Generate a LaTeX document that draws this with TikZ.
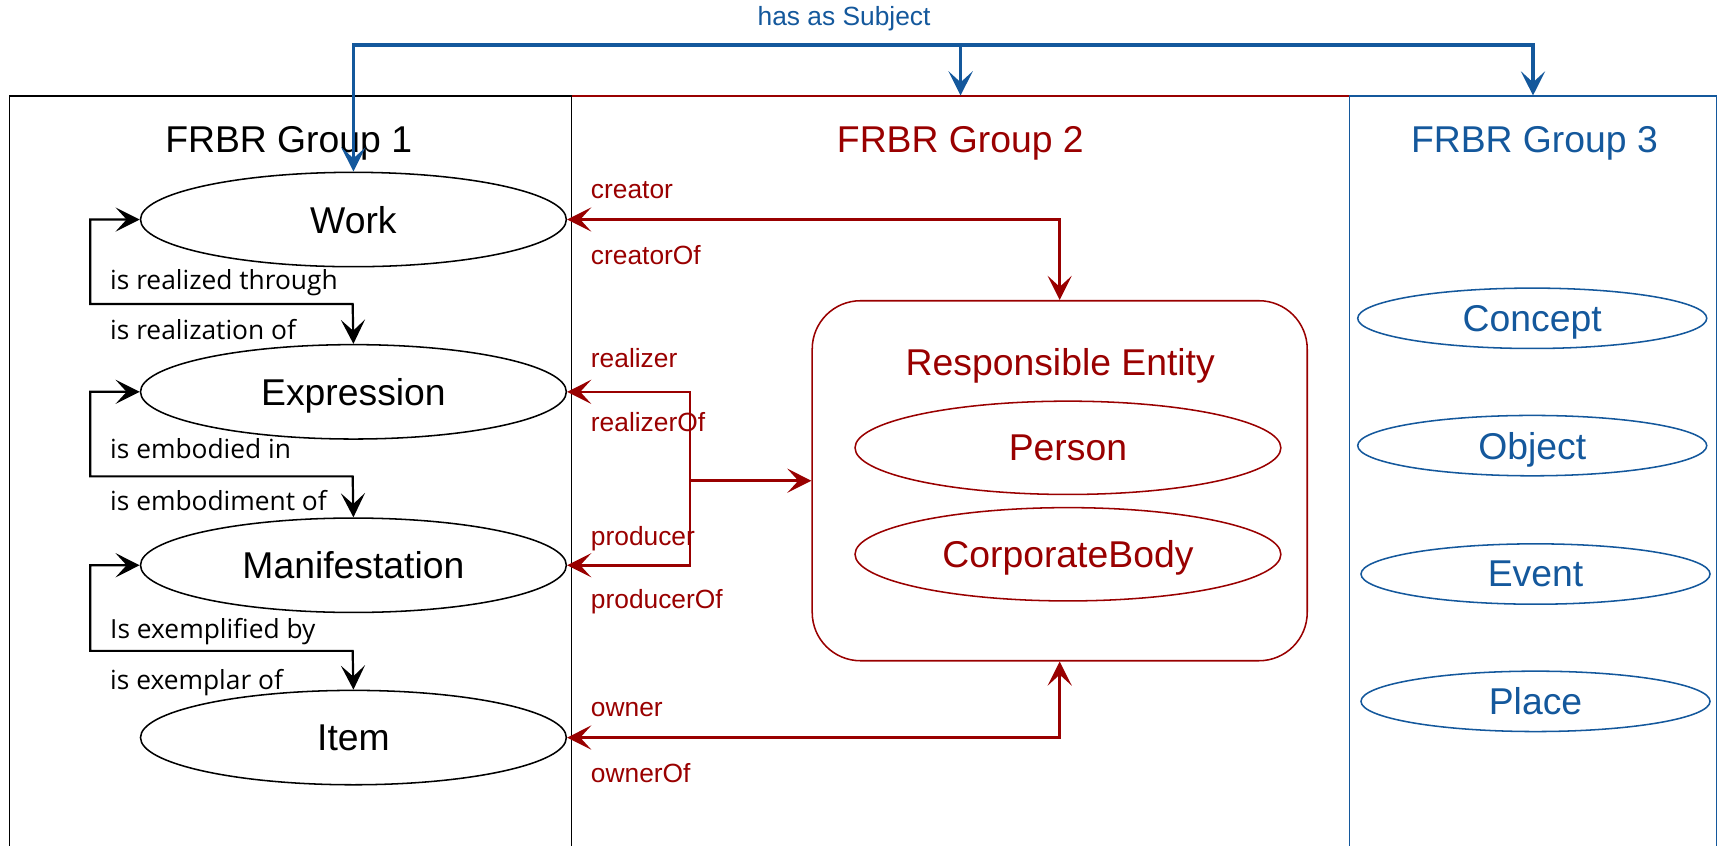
\documentclass[tikz,border=0pt]{standalone}
\usepackage{fontspec}
\setmainfont{Liberation Sans}
\newfontfamily\relfont{Open Sans}
\usetikzlibrary{shapes.geometric,arrows.meta}
\definecolor{frbrred}{RGB}{153,0,0}
\definecolor{frbrblue}{RGB}{20,88,156}

\begin{document}
\begin{tikzpicture}[x=0.5pt,y=-0.5pt,
  >={Stealth[length=11pt,width=11pt,inset=5pt]},
  grp/.style={draw, line width=0.7pt, anchor=north west, minimum height=350pt, inner sep=0},
  ttl/.style={font=\fontsize{17}{20}\selectfont, text depth=0pt},
  entity/.style={ellipse, draw, line width=0.7pt, inner sep=0, minimum width=194pt,
    minimum height=43pt, text depth=0pt, font=\fontsize{17}{20}\selectfont},
  theme/.style={entity, draw=frbrblue, text=frbrblue, minimum width=159pt, minimum height=27.5pt},
  rel/.style={line width=1pt, <->},
  lbl/.style={anchor=west, inner sep=0, text depth=0pt, font=\relfont\fontsize{12}{14}\selectfont},
  rlbl/.style={lbl, font=\fontsize{12}{14}\selectfont, text=frbrred},
]
  \useasboundingbox (0,0) rectangle (1568,770);

  % Group boxes
  \node[grp, draw=frbrred, minimum width=354.5pt] (grpB) at (520,87) {};
  \node[grp, minimum width=256pt] (grpA) at (8,87) {};
  \node[grp, draw=frbrblue, minimum width=167pt] (grpC) at (1229,87) {};

  \node[ttl] (ttlA) at (263,127) {FRBR Group 1};
  \node[ttl, text=frbrred] (ttlB) at (875,127) {FRBR Group 2};
  \node[ttl, text=frbrblue] (ttlC) at (1398,127) {FRBR Group 3};

  % Group 1
  \node[entity] (wrk) at (322,200) {Work};
  \node[entity] (exp) at (322,357) {Expression};
  \node[entity] (man) at (322,515) {Manifestation};
  \node[entity] (itm) at (322,672) {Item};

  \draw[rel] (wrk.west) -- ++(-45,0) |- ++(239,77) -- (exp.north);
  \draw[rel] (exp.west) -- ++(-45,0) |- ++(239,77) -- (man.north);
  \draw[rel] (man.west) -- ++(-45,0) |- ++(239,78) -- (itm.north);

  \node[lbl] (l1) at (100,255) {is realized through};
  \node[lbl] (l2) at (100,300) {is realization of};
  \node[lbl] (l3) at (100,409) {is embodied in};
  \node[lbl] (l4) at (100,456) {is embodiment of};
  \node[lbl] (l5) at (100,573) {Is exemplified by};
  \node[lbl] (l6) at (100,619) {is exemplar of};

  % Group 2
  \node[draw=frbrred, line width=0.7pt, rounded corners=22pt, minimum width=225.5pt,
    minimum height=164pt] (resp) at (965.5,438) {};
  \node[ttl, text=frbrred] (respt) at (966,330) {Responsible Entity};
  \node[entity, draw=frbrred, text=frbrred, minimum height=42.5pt] (pers) at (973,408) {Person};
  \node[entity, draw=frbrred, text=frbrred, minimum height=42.5pt] (corp) at (973,505) {CorporateBody};

  \draw[rel, frbrred, line width=1.2pt] (wrk.east) -| (resp.north);
  \draw[rel, frbrred, line width=1.2pt] (itm.east) -| (resp.south);
  \draw[rel, frbrred, line width=1.2pt] (exp.east) -- ++(112,0) |- (man.east);
  \coordinate (jn) at (628,438);
  \draw[->, frbrred, line width=1.2pt] (jn) -- (resp.west);

  \node[rlbl] (r1) at (538,173) {creator};
  \node[rlbl] (r2) at (538,232) {creatorOf};
  \node[rlbl] (r3) at (538,326) {realizer};
  \node[rlbl] (r4) at (538,384) {realizerOf};
  \node[rlbl] (r5) at (538,488) {producer};
  \node[rlbl] (r6) at (538,546) {producerOf};
  \node[rlbl] (r7) at (538,646) {owner};
  \node[rlbl] (r8) at (538,704) {ownerOf};

  % Group 3
  \node[theme] (cnc) at (1396,290) {Concept};
  \node[theme] (obj) at (1396,406) {Object};
  \node[theme] (evt) at (1399,523) {Event};
  \node[theme] (plc) at (1399,639) {Place};

  % Subject links
  \coordinate (subj) at (322,41);
  \draw[rel, frbrblue, line width=1.5pt] (wrk.north) -- (subj) -| (grpC.north);
  \draw[->, frbrblue, line width=1.5pt] (grpB.north |- subj) -- (grpB.north);
  \node[text=frbrblue, font=\fontsize{12}{14}\selectfont] (hsub) at (769,17) {has as Subject};
\end{tikzpicture}
\end{document}
